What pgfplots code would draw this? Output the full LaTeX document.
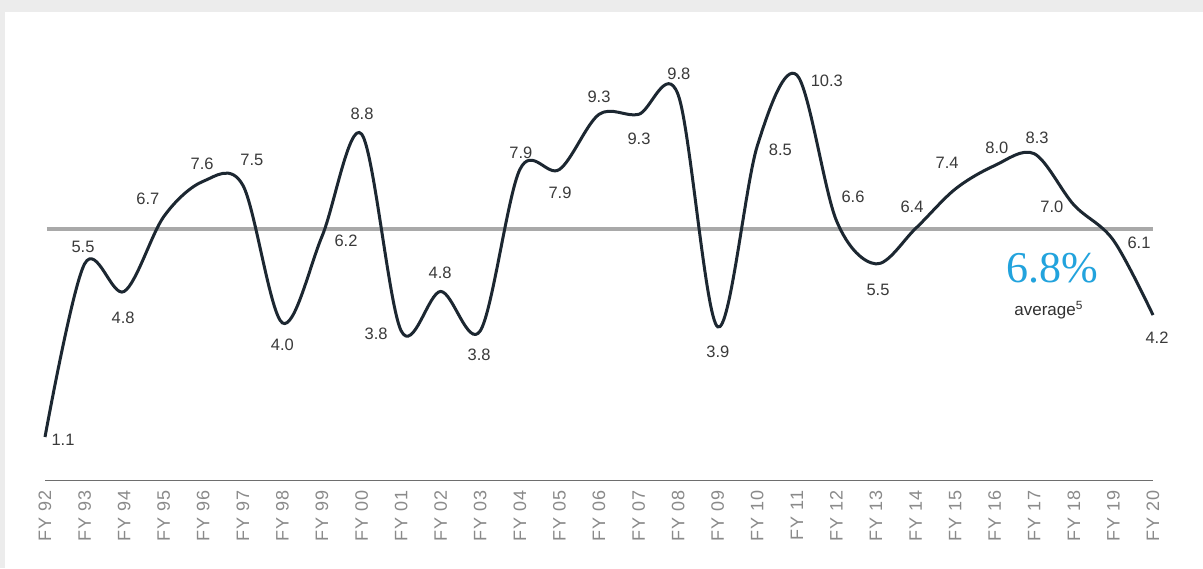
\documentclass[border=0pt]{standalone}
\usepackage{fontspec}
\setmainfont{Liberation Sans}
\newfontfamily\tickfont[LetterSpace=6]{Liberation Sans}
\newfontfamily\bigfont{Liberation Serif}
\usepackage{pgfplots}
\pgfplotsset{compat=1.18}
\definecolor{bg}{HTML}{ECECEC}
\definecolor{curve}{HTML}{1C2731}
\definecolor{avgline}{HTML}{A9A9A9}
\definecolor{lbl}{HTML}{3A3A3A}
\definecolor{tickc}{HTML}{8A8A8A}
\definecolor{blue68}{HTML}{22A3DD}
\tikzset{lb/.style={font=\fontsize{8.25}{9}\selectfont, text=lbl, inner sep=0pt}}
\begin{document}
\begin{tikzpicture}
\useasboundingbox (0,0) rectangle (601.5pt,284pt);
\fill[bg] (0,0) rectangle (601.5pt,284pt);
\fill[white] (2.5pt,0) rectangle (601.5pt,278pt);
\begin{axis}[
 at={(22.5pt,43.85pt)}, anchor=south west,
 scale only axis, width=554pt, height=216.4pt,
 xmin=0, xmax=28, ymin=0, ymax=11,
 clip=false,
 axis y line=none, ytick=\empty,
 axis x line*=bottom,
 x axis line style={draw=tickc!80!black, line width=0.6pt, -},
 xtick={0,...,28},
 xticklabels={FY 92,FY 93,FY 94,FY 95,FY 96,FY 97,FY 98,FY 99,FY 00,FY 01,FY 02,FY 03,FY 04,FY 05,FY 06,FY 07,FY 08,FY 09,FY 10,FY 11,FY 12,FY 13,FY 14,FY 15,FY 16,FY 17,FY 18,FY 19,FY 20},
 major tick length=0pt,
 xticklabel style={rotate=90, anchor=east, inner xsep=5pt, font=\tickfont\fontsize{9}{10}\selectfont, text=tickc},
]
\addplot[avgline, line width=1.7pt] coordinates {(0.05,6.39) (28,6.39)};
\addplot[curve, line width=1.5pt, smooth, tension=0.55] coordinates {
(0,1.1) (1,5.5) (2,4.8) (3,6.7) (4,7.6) (5,7.5) (6,4.0) (7,6.2) (8,8.8) (9,3.8)
(10,4.8) (11,3.8) (12,7.9) (13,7.9) (14,9.3) (15,9.3) (16,9.8) (17,3.9) (18,8.5) (19,10.3)
(20,6.6) (21,5.5) (22,6.4) (23,7.4) (24,8.0) (25,8.3) (26,7.0) (27,6.1) (28,4.2)};
\node[lb, xshift=9pt, yshift=-1.5pt] at (axis cs:0,1.1) {1.1};
\node[lb, xshift=-0.8pt, yshift=8.5pt] at (axis cs:1,5.5) {5.5};
\node[lb, xshift=-0.5pt, yshift=-13.3pt] at (axis cs:2,4.8) {4.8};
\node[lb, xshift=-7.9pt, yshift=8.9pt] at (axis cs:3,6.7) {6.7};
\node[lb, xshift=-0.6pt, yshift=8.6pt] at (axis cs:4,7.6) {7.6};
\node[lb, xshift=4.5pt, yshift=12.6pt] at (axis cs:5,7.5) {7.5};
\node[lb, xshift=0pt, yshift=-11pt] at (axis cs:6,4.0) {4.0};
\node[lb, xshift=12pt, yshift=-2.4pt] at (axis cs:7,6.2) {6.2};
\node[lb, xshift=0.2pt, yshift=10pt] at (axis cs:8,8.8) {8.8};
\node[lb, xshift=-12.5pt, yshift=-1.4pt] at (axis cs:9,3.8) {3.8};
\node[lb, xshift=-0.3pt, yshift=9.2pt] at (axis cs:10,4.8) {4.8};
\node[lb, xshift=-0.6pt, yshift=-12.1pt] at (axis cs:11,3.8) {3.8};
\node[lb, xshift=0.5pt, yshift=8.2pt] at (axis cs:12,7.9) {7.9};
\node[lb, xshift=0.3pt, yshift=-11.8pt] at (axis cs:13,7.9) {7.9};
\node[lb, xshift=0pt, yshift=8.7pt] at (axis cs:14,9.3) {9.3};
\node[lb, xshift=0.2pt, yshift=-12.3pt] at (axis cs:15,9.3) {9.3};
\node[lb, xshift=0.4pt, yshift=10.2pt] at (axis cs:16,9.8) {9.8};
\node[lb, xshift=0.1pt, yshift=-12.6pt] at (axis cs:17,3.9) {3.9};
\node[lb, xshift=11.5pt, yshift=-2pt] at (axis cs:18,8.5) {8.5};
\node[lb, xshift=15pt, yshift=-3pt] at (axis cs:19,10.3) {10.3};
\node[lb, xshift=8.3pt, yshift=11.7pt] at (axis cs:20,6.6) {6.6};
\node[lb, xshift=1pt, yshift=-13pt] at (axis cs:21,5.5) {5.5};
\node[lb, xshift=-1.8pt, yshift=10.7pt] at (axis cs:22,6.4) {6.4};
\node[lb, xshift=-4pt, yshift=13pt] at (axis cs:23,7.4) {7.4};
\node[lb, xshift=1.1pt, yshift=8.7pt] at (axis cs:24,8.0) {8.0};
\node[lb, xshift=1.4pt, yshift=7.8pt] at (axis cs:25,8.3) {8.3};
\node[lb, xshift=-11pt, yshift=-1.1pt] at (axis cs:26,7.0) {7.0};
\node[lb, xshift=12.8pt, yshift=-1.4pt] at (axis cs:27,6.1) {6.1};
\node[lb, xshift=2pt, yshift=-11.5pt] at (axis cs:28,4.2) {4.2};
\node[font=\bigfont\fontsize{22}{24}\selectfont, text=blue68, inner sep=0pt] at (axis cs:25.45,5.40) {6.8\%};
\node[font=\fontsize{8.5}{10}\selectfont, text=lbl!85!black, inner sep=0pt] at (axis cs:25.37,4.33) {average\textsuperscript{5}};
\end{axis}
\end{tikzpicture}
\end{document}
